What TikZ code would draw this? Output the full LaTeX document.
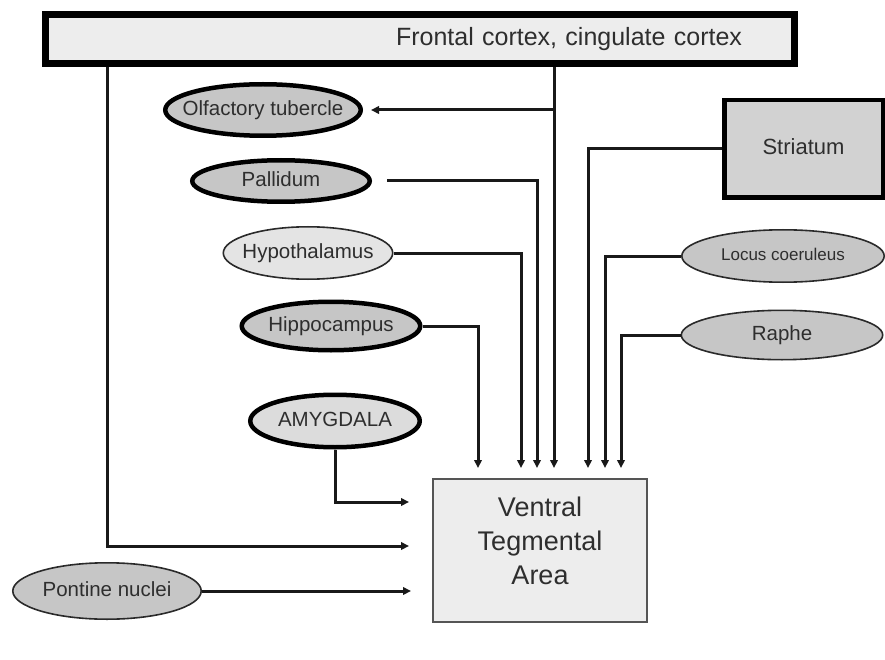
\documentclass[tikz,border=0pt]{standalone}
\usepackage{fontspec}
\setmainfont{Liberation Sans}
\usetikzlibrary{shapes.geometric,arrows.meta}
\definecolor{gA}{HTML}{C6C6C6}
\definecolor{gL}{HTML}{E4E4E4}
\definecolor{gM}{HTML}{DCDCDC}
\definecolor{gB}{HTML}{EDEDED}
\definecolor{gS}{HTML}{D2D2D2}
\definecolor{txt}{HTML}{2E2E2E}
\definecolor{bd}{HTML}{2A2A2A}
\newcommand\ctext[1]{\makebox[0pt]{\raisebox{\dimexpr-.36em+2pt\relax}[0pt][0pt]{#1}}}
\begin{document}
\begin{tikzpicture}[x=1pt,y=-1pt,
  ell/.style={ellipse, inner sep=0pt, text=txt, font=\fontsize{20.5}{23}\selectfont},
  thickell/.style={ell, draw=black, line width=4.5pt},
  thinell/.style={ell, draw=bd, line width=1.6pt},
  conn/.style={line width=3pt, draw=black!90},
  arr/.style={conn, -{Triangle[length=8pt,width=7.5pt]}},
  topbox/.style={rectangle, draw=black, line width=7pt, fill=gB, text=txt,
     minimum width=749pt, minimum height=49pt, inner xsep=52.5pt, inner ysep=0pt,
     text width=644pt, align=right, font=\fontsize{25}{28}\selectfont},
  strbox/.style={rectangle, draw=black, line width=4.5pt, fill=gS, text=txt,
     minimum width=158.5pt, minimum height=97.5pt, inner sep=0pt,
     font=\fontsize{22}{26}\selectfont},
  vtabox/.style={rectangle, draw=bd!80, line width=2.2pt, fill=gB,
     minimum width=214pt, minimum height=143pt, inner sep=0pt},
  vtatext/.style={text=txt, align=center, inner sep=0pt,
     font=\fontsize{27}{34}\selectfont}
]
\useasboundingbox (0,0) rectangle (885,660);
\fill[white] (0,0) rectangle (885,660);

% nodes
\node[topbox] (top) at (420,39) {Frontal cortex, cingulate cortex};
\node[strbox] (str) at (803.5,149) {\raisebox{4pt}{Striatum}};
\node[vtabox] (vta) at (540,550.5) {};
\node[vtatext] (vtat) at (540,541) {Ventral\\Tegmental\\Area};

\node[thickell, fill=gA, minimum width=195.5pt, minimum height=51.5pt] (olf) at (263,110) {\ctext{Olfactory tubercle}};
\node[thickell, fill=gA, minimum width=177.5pt, minimum height=41.5pt] (pal) at (281,181) {\ctext{Pallidum}};
\node[thinell, fill=gL, minimum width=169.4pt, minimum height=52.4pt] (hyp) at (308,253) {\ctext{Hypothalamus}};
\node[thickell, fill=gA, minimum width=178.5pt, minimum height=48.5pt] (hip) at (331,326) {\ctext{Hippocampus}};
\node[thickell, fill=gM, minimum width=169.5pt, minimum height=52.5pt] (amy) at (335,421) {\ctext{AMYGDALA}};
\node[thinell, fill=gA, minimum width=202.4pt, minimum height=52.4pt, font=\fontsize{17}{19}\selectfont] (loc) at (783,256) {\ctext{Locus coeruleus}};
\node[thinell, fill=gA, minimum width=201.4pt, minimum height=49.4pt] (rap) at (782,335) {\ctext{Raphe}};
\node[thinell, fill=gA, minimum width=188.4pt, minimum height=56.4pt] (pon) at (107,591) {\ctext{Pontine nuclei}};

% arrow targets
\coordinate (v1) at (478,468);
\coordinate (v2) at (521,468);
\coordinate (v3) at (537,468);
\coordinate (v4) at (554,468);
\coordinate (v5) at (588,468);
\coordinate (v6) at (605,468);
\coordinate (v7) at (621,468);
\coordinate (h1) at (409,502);
\coordinate (h2) at (409,546);
\coordinate (h3) at (411,597);
\coordinate (fl) at (107,0);

% connectors
\draw[arr] (fl |- top.south) |- (h2);
\draw[arr] (v4 |- top.south) -- (v4);
\draw[arr] (v4 |- olf.east) -- ([xshift=8pt]olf.east);
\draw[arr] ([xshift=15pt]pal.east) -| (v3);
\draw[arr] (hyp.east) -| (v2);
\draw[arr] (hip.east) -| (v1);
\draw[arr] (str.west) -| (v5);
\draw[arr] (loc.west) -| (v6);
\draw[arr] (rap.west) -| (v7);
\draw[arr] (amy.south) |- (h1);
\draw[arr] (pon.east) -- (pon.east -| h3);
\end{tikzpicture}
\end{document}
